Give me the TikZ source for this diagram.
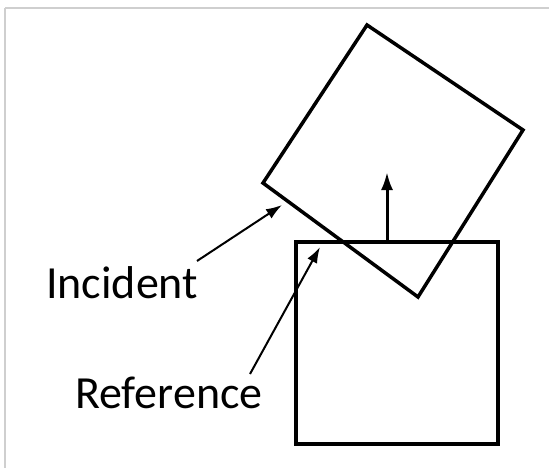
\documentclass[tikz,border=0pt]{standalone}
\usepackage{fontspec}
\setmainfont{Carlito}
\usetikzlibrary{arrows.meta}
\definecolor{framegray}{HTML}{CFCFCF}
\tikzset{
  frameline/.style={draw=framegray, line width=2pt},
  boxline/.style={draw=black, line width=3.5pt, line join=miter},
  pointer/.style={draw=black, line width=2pt, -{Latex[length=16pt,width=11pt]}},
  normalarrow/.style={draw=black, line width=3pt, -{Latex[length=18pt,width=12pt]}},
  label/.style={inner sep=0pt, anchor=base west, font=\fontsize{46}{52}\selectfont}
}
\begin{document}
\begin{tikzpicture}[x=1pt, y=-1pt]
  \useasboundingbox (0,0) rectangle (549,468);
  \fill[white] (0,0) rectangle (549,468);

  % light frame along the top and left edges
  \draw[frameline] (5,8.5) -- (549,8.5);
  \draw[frameline] (5,8.5) -- (5,468);

  % incident (rotated) square
  \coordinate (i1) at (367,25);
  \coordinate (i2) at (523,130);
  \coordinate (i3) at (418,297);
  \coordinate (i4) at (263,183);
  \draw[boxline] (i1) -- (i2) -- (i3) -- (i4) -- cycle;

  % reference square
  \coordinate (r1) at (296,242);
  \coordinate (r2) at (498,444);
  \draw[boxline] (r1) rectangle (r2);

  % normal arrow on the top face of the reference square
  \coordinate (nbase) at (387,242);
  \coordinate (ntip) at (387,172);
  \draw[normalarrow] (nbase) -- (ntip);

  % labels
  \node[label] (inc) at (46,298) {Incident};
  \node[label] (ref) at (75,408) {Reference};

  % pointers from labels to the squares
  \coordinate (inctail) at (197,261);
  \coordinate (inchead) at (282,205);
  \draw[pointer] (inctail) -- (inchead);

  \coordinate (reftail) at (250,374);
  \coordinate (refhead) at (320,247);
  \draw[pointer] (reftail) -- (refhead);
\end{tikzpicture}
\end{document}
